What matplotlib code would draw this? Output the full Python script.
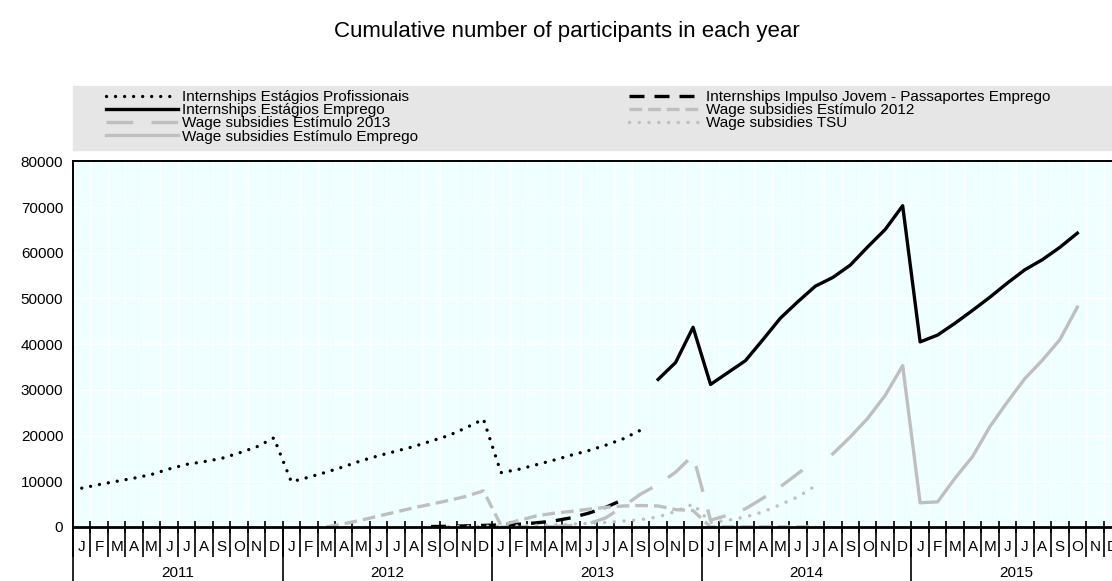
import numpy as np
import matplotlib.pyplot as plt
from matplotlib.patches import Rectangle

plt.rcParams['font.family'] = ['Liberation Sans', 'DejaVu Sans']

years = [2011, 2012, 2013, 2014, 2015]
month_letters = list("JFMAMJJASOND")

# each series: first month (year, month) + monthly cumulative participants
prof_start = (2011, 1)
prof = [8500, 9300, 10000, 10700, 11500, 12700, 13700, 14300, 15000, 16200, 17500, 19500,
        9900, 10900, 12000, 13200, 14500, 15600, 16600, 17600, 18800, 20000, 21700, 23600,
        11900, 12600, 13600, 14600, 15700, 16700, 17900, 19300, 21200]

impulso_start = (2012, 9)
impulso = [100, 150, 250, 350, 450, 600, 900, 1300, 2000, 3000, 4300, 6000]

emprego_start = (2013, 10)
emprego = [32300, 36000, 43700,
           31200, 33800, 36400, 41000, 45700, 49300, 52700, 54600, 57300, 61300, 65100, 70300,
           40500, 42000, 44600, 47400, 50300, 53400, 56300, 58500, 61200, 64300]

est2012_start = (2012, 3)
est2012 = [0, 700, 1500, 2400, 3300, 4200, 5000, 5800, 6700, 7900,
           400, 1400, 2400, 3000, 3400, 3900, 4300, 4600, 4700, 4600, 3800, 3600,
           0, 50, 50, 50, 50, 50, 50]

est2013_start = (2013, 1)
est2013 = [0, 0, 50, 100, 300, 700, 2000, 4500, 7200, 9300, 12000, 15700,
           1500, 2600, 4000, 6300, 8800, 11700, 14600]

tsu_start = (2012, 10)
tsu = [50, 100, 150, 200, 250, 350, 450, 600, 800, 1000, 1300, 1600, 2200, 3400, 5000,
       1000, 1500, 2200, 3300, 4900, 6600, 9000]

estemp_start = (2014, 8)
estemp = [16000, 19700, 23800, 28800, 35300,
          5300, 5500, 10700, 15400, 22000, 27400, 32500, 36500, 41000, 48100]


def month_x(start, vals):
    i0 = (start[0] - 2011) * 12 + start[1] - 1
    return np.arange(i0, i0 + len(vals)) + 0.5


grey = '#BFBFBF'
fig = plt.figure(figsize=(11.12, 5.81), dpi=100)
ax = fig.add_axes([73 / 1112, 54 / 581, 1048 / 1112, 365.6 / 581])
ax.set_facecolor('#EFFFFF')

l_prof, = ax.plot(month_x(prof_start, prof), prof, color='black', lw=2.4,
                  dashes=(0.01, 2.7), dash_capstyle='round')
l_emp, = ax.plot(month_x(emprego_start, emprego), emprego, color='black', lw=2.4)
l_e13, = ax.plot(month_x(est2013_start, est2013), est2013, color=grey, lw=2.4, dashes=(8, 5.5))
l_ee, = ax.plot(month_x(estemp_start, estemp), estemp, color=grey, lw=2.4)
l_imp, = ax.plot(month_x(impulso_start, impulso), impulso, color='black', lw=2.4, dashes=(4.5, 3))
l_e12, = ax.plot(month_x(est2012_start, est2012), est2012, color=grey, lw=2.4, dashes=(3.8, 1.8))
l_tsu, = ax.plot(month_x(tsu_start, tsu), tsu, color=grey, lw=2.5,
                 dashes=(0.01, 2.8), dash_capstyle='round')

ax.set_xlim(0, 60)
ax.set_ylim(0, 80000)
ax.set_yticks(np.arange(0, 80001, 10000))
ax.tick_params(axis='y', length=0, pad=7, labelsize=11)
ax.grid(True, color='white', lw=1)
ax.set_axisbelow(True)
for s in ['left', 'top']:
    ax.spines[s].set_linewidth(1.4)
ax.spines['bottom'].set_linewidth(2)
ax.spines['right'].set_visible(False)

# month boundaries + letters
ax.set_xticks(np.arange(61))
ax.set_xticklabels([])
ax.set_xticks(np.arange(60) + 0.5, minor=True)
ax.set_xticklabels(month_letters * 5, minor=True)
ax.tick_params(axis='x', which='major', direction='inout', length=8.6, width=1.2)
ax.tick_params(axis='x', which='minor', length=0, pad=9.5, labelsize=11)

sep = ax.secondary_xaxis('bottom')
sep.set_xticks(np.arange(61), labels=[])
sep.tick_params(direction='out', length=21.6, width=1.2)
sep.spines['bottom'].set_visible(False)

yr = ax.secondary_xaxis('bottom')
yr.set_xticks(np.arange(0, 61, 12), labels=[])
yr.set_xticks(np.arange(6, 60, 12), labels=[str(y) for y in years], minor=True)
yr.tick_params(which='major', direction='out', length=45, width=1.2)
yr.tick_params(which='minor', length=0, pad=28, labelsize=11)
yr.spines['bottom'].set_visible(False)

# legend band
fig.patches.append(Rectangle((73 / 1112, 1 - 150 / 581), 1, 64 / 581,
                             transform=fig.transFigure, color='#E6E6E6', zorder=0))
handles = [l_prof, l_emp, l_e13, l_ee, l_imp, l_e12, l_tsu]
labels = ['Internships Estágios Profissionais', 'Internships Estágios Emprego',
          'Wage subsidies Estímulo 2013', 'Wage subsidies Estímulo Emprego',
          'Internships Impulso Jovem - Passaportes Emprego', 'Wage subsidies Estímulo 2012',
          'Wage subsidies TSU']
fig.legend(handles, labels, ncol=2, loc='upper left', bbox_to_anchor=(106 / 1112, 1 - 90 / 581),
           frameon=False, fontsize=11, handlelength=4.7, handletextpad=0.3,
           labelspacing=-0.05, borderpad=0, borderaxespad=0, columnspacing=13.8)

fig.text(567 / 1112, 1 - 32 / 581, 'Cumulative number of participants in each year',
         ha='center', va='center', fontsize=16)

fig.savefig('out.png', dpi=100)
